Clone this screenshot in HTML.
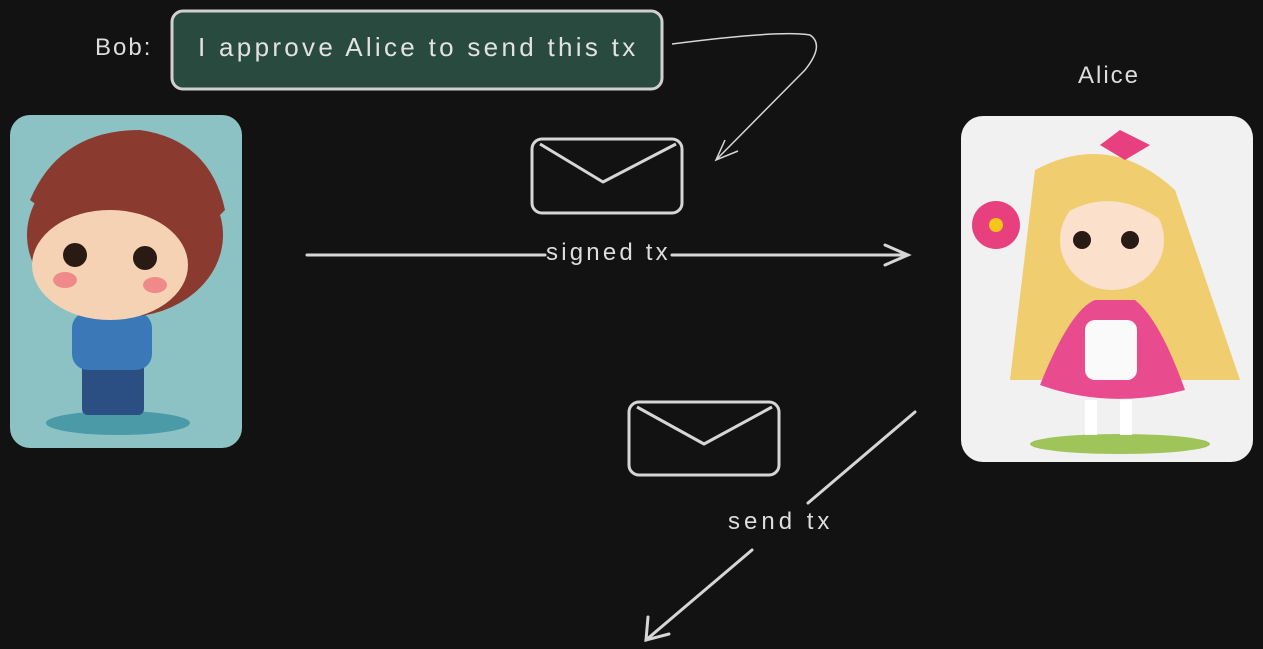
<!DOCTYPE html>
<html><head><style>
html,body{margin:0;padding:0;background:#121212;width:1263px;height:649px;overflow:hidden}
body{position:relative;font-family:"Liberation Sans",sans-serif;color:#ddd}
.t{position:absolute;white-space:nowrap}
</style></head><body>
<svg width="1263" height="649" style="position:absolute;left:0;top:0">
  <rect x="10" y="115" width="232" height="333" rx="20" fill="#8cc2c3"/>
  <ellipse cx="118" cy="423" rx="72" ry="12" fill="#4a9aa8"/>
  <rect x="82" y="360" width="62" height="55" rx="6" fill="#2b4f82"/>
  <rect x="72" y="312" width="80" height="58" rx="16" fill="#3a78b8"/>
  <ellipse cx="125" cy="235" rx="98" ry="82" fill="#8a3a2e"/>
  <ellipse cx="110" cy="265" rx="78" ry="55" fill="#f6d2b4"/>
  <circle cx="75" cy="255" r="12" fill="#2a1a14"/><circle cx="145" cy="258" r="12" fill="#2a1a14"/>
  <ellipse cx="65" cy="280" rx="12" ry="8" fill="#f08a8a"/><ellipse cx="155" cy="285" rx="12" ry="8" fill="#f08a8a"/>
  <path d="M30 200 Q60 130 140 130 Q210 140 225 210 L205 230 Q150 170 50 215 Z" fill="#8a3a2e"/>
  <rect x="961" y="116" width="292" height="346" rx="22" fill="#f1f1f1"/>
  <ellipse cx="1120" cy="444" rx="90" ry="10" fill="#9ec45a"/>
  <path d="M1035 170 Q1110 130 1175 190 L1240 380 L1010 380 Z" fill="#f0cd6e"/>
  <path d="M1040 385 Q1070 310 1095 300 L1135 300 Q1160 320 1185 390 Q1110 410 1040 385 Z" fill="#e84c8f"/>
  <rect x="1085" y="320" width="52" height="60" rx="10" fill="#fafafa"/>
  <ellipse cx="1112" cy="240" rx="52" ry="50" fill="#fbe0cc"/>
  <path d="M1055 220 Q1070 160 1112 160 Q1160 165 1168 225 Q1110 180 1055 220 Z" fill="#f0cd6e"/>
  <circle cx="1082" cy="240" r="9" fill="#2a1a14"/><circle cx="1130" cy="240" r="9" fill="#2a1a14"/>
  <path d="M1100 145 L1120 130 L1150 145 L1125 160 Z" fill="#e8407e"/>
  <circle cx="996" cy="225" r="24" fill="#e8407e"/><circle cx="996" cy="225" r="7" fill="#f3c619"/>
  <rect x="1085" y="400" width="12" height="35" fill="#fff"/><rect x="1120" y="400" width="12" height="35" fill="#fff"/>
  <rect x="172" y="11" width="490" height="78" rx="11" fill="#284a3f" stroke="#d0d0d0" stroke-width="3"/>
  <g fill="none" stroke="#d6d6d6" stroke-width="3" stroke-linejoin="round">
    <rect x="532" y="139" width="150" height="74" rx="10"/>
    <path d="M540 144 L603 182 L676 144"/>
    <rect x="629" y="402" width="150" height="73" rx="10"/>
    <path d="M637 407 L704 444 L772 407"/>
  </g>
  <g stroke="#d6d6d6" stroke-width="3" fill="none" stroke-linecap="round">
    <path d="M307 255 L545 255 M672 255 L908 255"/>
    <path d="M885 245 L908 255 L885 265"/>
    <path d="M915 412 L808 503 M752 550 L646 640"/>
    <path d="M648 617 L646 640 L669 634"/>
  </g>
  <g stroke="#d6d6d6" stroke-width="1.5" fill="none">
    <path d="M672 44 Q780 30 810 35 Q825 45 805 70 L716 160"/>
    <path d="M725 140 L716 160 L738 151"/>
  </g>
</svg>
<div class="t" style="left:95px;top:34px;font-size:24px;letter-spacing:2px">Bob:</div>
<div class="t" style="left:198px;top:32px;font-size:26px;letter-spacing:3.3px;color:#e2e2e2">I approve Alice to send this tx</div>
<div class="t" style="left:1078px;top:62px;font-size:24px;letter-spacing:2px">Alice</div>
<div class="t" style="left:546px;top:239px;font-size:24px;letter-spacing:3.2px">signed tx</div>
<div class="t" style="left:728px;top:508px;font-size:24px;letter-spacing:4px">send tx</div>
</body></html>
